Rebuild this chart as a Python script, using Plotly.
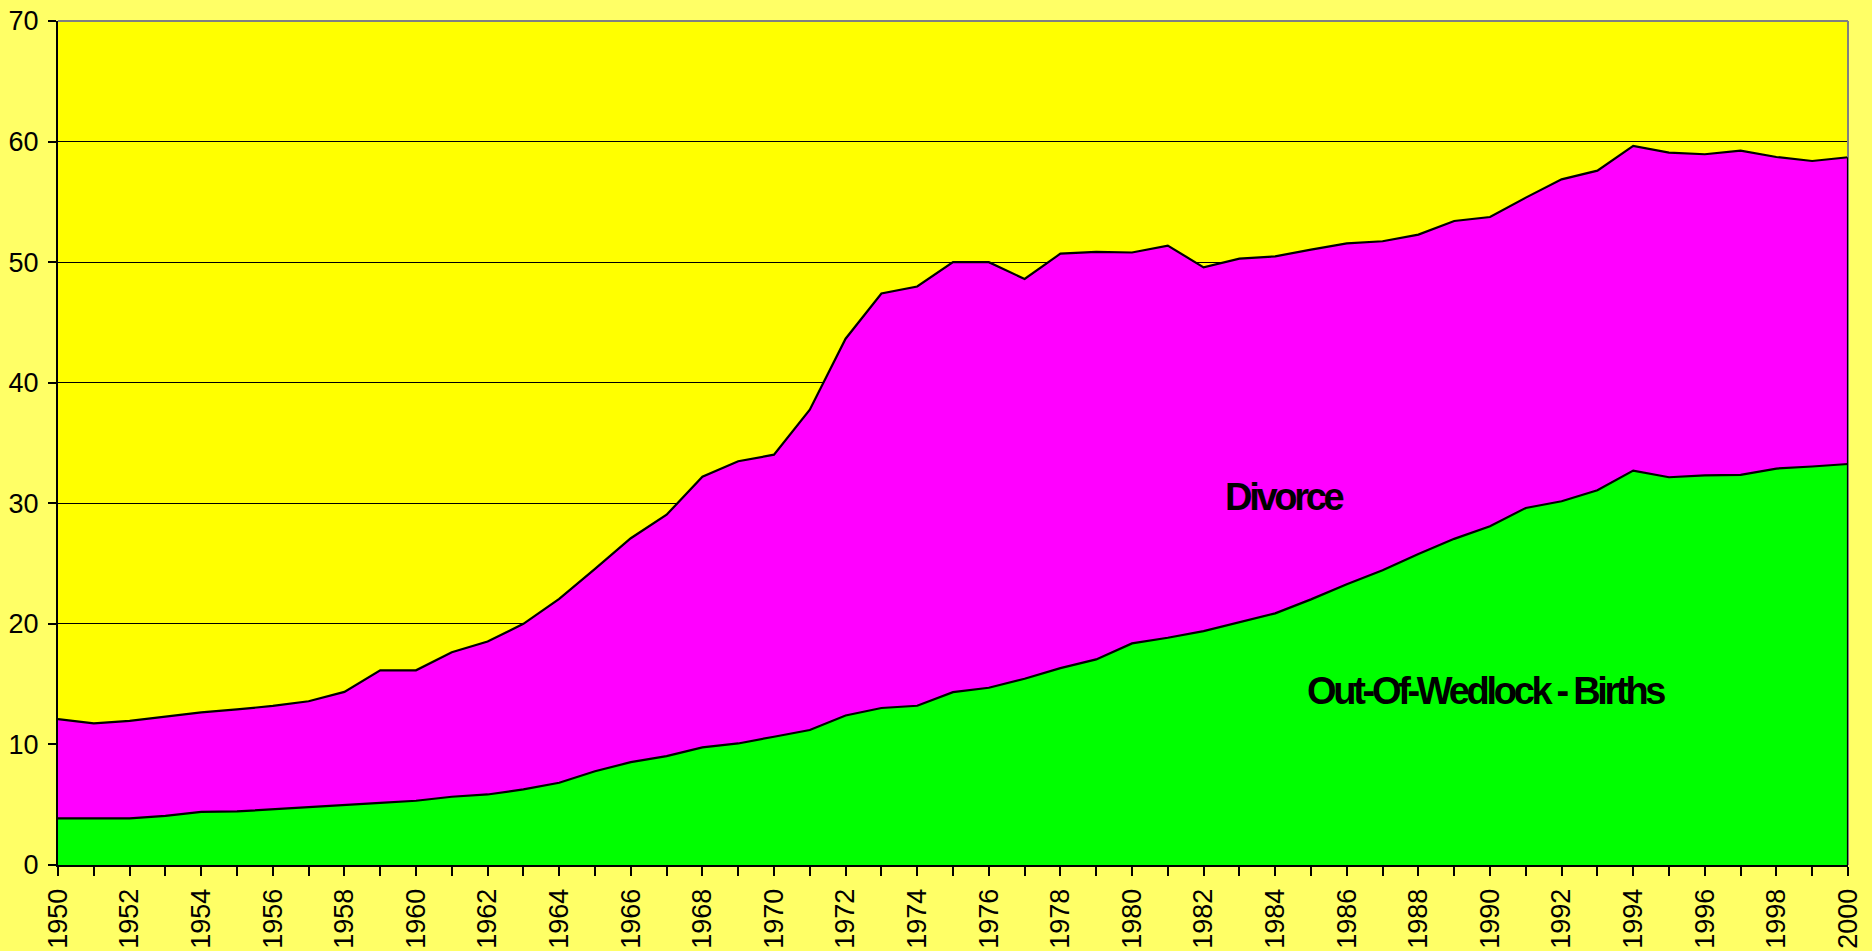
import plotly.graph_objects as go

years = list(range(1950, 2001))

# Out-of-wedlock births (lower band top)
births = [3.86, 3.86, 3.86, 4.08, 4.41, 4.44, 4.63, 4.83, 5.0, 5.16,
          5.33, 5.66, 5.85, 6.27, 6.82, 7.78, 8.53, 9.03, 9.75, 10.08,
          10.64, 11.2, 12.4, 13.02, 13.21, 14.34, 14.7, 15.45, 16.33, 17.05,
          18.38, 18.85, 19.4, 20.15, 20.87, 22.03, 23.28, 24.44, 25.79, 27.05,
          28.1, 29.61, 30.17, 31.08, 32.71, 32.16, 32.32, 32.35, 32.88, 33.05,
          33.26]

# Births + divorce (upper band top)
total = [12.1, 11.75, 11.95, 12.33, 12.66, 12.9, 13.2, 13.58, 14.36, 16.15,
         16.15, 17.64, 18.53, 20.0, 22.07, 24.56, 27.1, 29.05, 32.2, 33.49,
         34.03, 37.76, 43.65, 47.4, 47.98, 50.0, 50.0, 48.6, 50.7, 50.85,
         50.8, 51.37, 49.57, 50.29, 50.48, 51.04, 51.56, 51.73, 52.28, 53.41,
         53.74, 55.35, 56.87, 57.59, 59.64, 59.09, 58.95, 59.25, 58.72, 58.39,
         58.7]

labels = ["Divorce", "Out-Of-Wedlock - Births"]
label_x = [1984.25, 1989.9]
label_y = [30.5, 14.4]

FONT = "Liberation Sans, Arial, sans-serif"

fig = go.Figure()
fig.add_trace(go.Scatter(
    x=years, y=births, mode="lines", fill="tozeroy",
    fillcolor="#00FF00", line=dict(color="black", width=2.2),
    name="Out-Of-Wedlock - Births", showlegend=False))
fig.add_trace(go.Scatter(
    x=years, y=total, mode="lines", fill="tonexty",
    fillcolor="#FF00FF", line=dict(color="black", width=2.2),
    name="Divorce", showlegend=False))

for t, xx, yy in zip(labels, label_x, label_y):
    fig.add_annotation(x=xx, y=yy,
                       text=f'<span style="letter-spacing:-3.3px"><b>{t}</b></span>',
                       showarrow=False,
                       font=dict(family=FONT, size=38, color="black"),
                       xanchor="center", yanchor="middle")

# plot border (top / right gray) and right edge of areas
fig.add_shape(type="line", xref="paper", yref="paper", x0=0, x1=1, y0=1, y1=1,
              line=dict(color="#808080", width=2), layer="above")
fig.add_shape(type="line", xref="paper", yref="paper", x0=1, x1=1, y0=0, y1=1,
              line=dict(color="#808080", width=2), layer="above")
fig.add_shape(type="line", xref="x", yref="y", x0=years[-1], x1=years[-1],
              y0=0, y1=total[-1], line=dict(color="black", width=2.2), layer="above")

fig.update_layout(
    autosize=True,
    paper_bgcolor="#FFFF66", plot_bgcolor="#FFFF00",
    margin=dict(l=58, r=24, t=21, b=86, autoexpand=False),
    font=dict(family=FONT, color="black"),
    xaxis=dict(range=[1950, 2000], tickmode="linear", tick0=1950, dtick=2,
               ticks="outside", ticklen=9, tickwidth=1.5, tickcolor="black",
               tickangle=-90, showgrid=False, zeroline=False, automargin=False,
               showline=True, linecolor="black", linewidth=2,
               tickfont=dict(family=FONT, size=27, color="black"),
               ticklabelstandoff=2,
               minor=dict(dtick=1, ticks="outside", ticklen=9, tickwidth=1.5,
                          tickcolor="black", showgrid=False)),
    yaxis=dict(range=[0, 70], tickmode="linear", tick0=0, dtick=10,
               ticks="outside", ticklen=8, tickwidth=1.5, tickcolor="black",
               showgrid=True, gridcolor="black", gridwidth=1.2, automargin=False,
               zeroline=False, showline=True, linecolor="black", linewidth=2,
               tickfont=dict(family=FONT, size=27, color="black"),
               ticklabelstandoff=4),
)

post = ("document.documentElement.style.margin='0';"
        "document.body.style.margin='0';"
        "document.body.style.overflow='hidden';"
        "return Plotly.Plots.resize(document.getElementById('{plot_id}'));")

fig.write_html("out.html", post_script=post, config={"displayModeBar": False})
